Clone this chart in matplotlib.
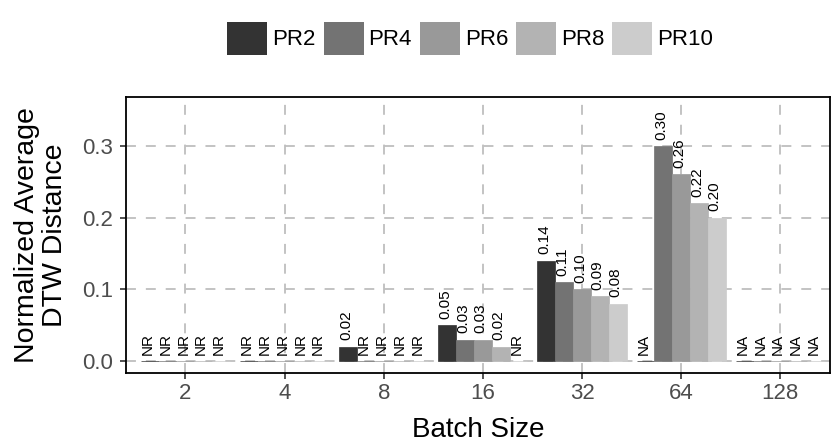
import numpy as np
import matplotlib.pyplot as plt
from matplotlib.patches import Patch

plt.rcParams['font.family'] = ['Liberation Sans', 'DejaVu Sans']

# data
batch_sizes = ["2", "4", "8", "16", "32", "64", "128"]
series = ["PR2", "PR4", "PR6", "PR8", "PR10"]
colors = ["#333333", "#737373", "#999999", "#B3B3B3", "#CCCCCC"]

pr2 = [0.0, 0.0, 0.02, 0.05, 0.14, 0.0, 0.0]
pr4 = [0.0, 0.0, 0.0, 0.03, 0.11, 0.30, 0.0]
pr6 = [0.0, 0.0, 0.0, 0.03, 0.10, 0.26, 0.0]
pr8 = [0.0, 0.0, 0.0, 0.02, 0.09, 0.22, 0.0]
pr10 = [0.0, 0.0, 0.0, 0.0, 0.08, 0.20, 0.0]

lab_pr2 = ["NR", "NR", "0.02", "0.05", "0.14", "NA", "NA"]
lab_pr4 = ["NR", "NR", "NR", "0.03", "0.11", "0.30", "NA"]
lab_pr6 = ["NR", "NR", "NR", "0.03", "0.10", "0.26", "NA"]
lab_pr8 = ["NR", "NR", "NR", "0.02", "0.09", "0.22", "NA"]
lab_pr10 = ["NR", "NR", "NR", "NR", "0.08", "0.20", "NA"]

values = [pr2, pr4, pr6, pr8, pr10]
labels = [lab_pr2, lab_pr4, lab_pr6, lab_pr8, lab_pr10]

fig = plt.figure(figsize=(8.31, 4.43), dpi=100)
ax = fig.add_axes([0.1516, 0.158, 0.847, 0.623])

x = np.arange(len(batch_sizes))
bw = 0.9 / len(series)
for i, (vals, labs) in enumerate(zip(values, labels)):
    pos = x - 0.45 + bw * (i + 0.5)
    ax.bar(pos, vals, width=bw, color=colors[i], edgecolor=colors[i],
           linewidth=0.5, zorder=3)
    for px, v, t in zip(pos, vals, labs):
        ax.annotate(t, (px, v), xytext=(-1.5, 4.5), textcoords="offset points",
                    rotation=90, ha="center", va="bottom", fontsize=11,
                    color="black", zorder=4)

ax.set_xlim(-0.6, 6.5)
ax.set_ylim(-0.0167, 0.368)
ax.set_xticks(x)
ax.set_xticklabels(batch_sizes)
ax.set_yticks([0.0, 0.1, 0.2, 0.3])
ax.set_yticklabels(["0.0", "0.1", "0.2", "0.3"])
ax.tick_params(axis="both", direction="out", length=4.5, width=1.2,
               color="#333333", labelsize=16, labelcolor="#4D4D4D")
ax.tick_params(axis="x", pad=3)
ax.tick_params(axis="y", pad=5)

ax.grid(True, color="#BEBEBE", linestyle=(0, (5.5, 5.5)), linewidth=1.3, zorder=0)
ax.set_axisbelow(True)
for sp in ax.spines.values():
    sp.set_linewidth(1.3)
    sp.set_color("black")

ax.set_xlabel("Batch Size", fontsize=20, labelpad=9)
ax.set_ylabel("Normalized Average\nDTW Distance", fontsize=20.5, labelpad=10,
              linespacing=1.1)

handles = [Patch(facecolor=c, edgecolor="none") for c in colors]
fig.legend(handles, series, loc="center", bbox_to_anchor=(0.566, 0.914),
           ncol=5, frameon=False, fontsize=16, handlelength=1.8,
           handleheight=1.9, handletextpad=0.22, columnspacing=0.36,
           borderaxespad=0)

fig.savefig("out.png", dpi=100)
